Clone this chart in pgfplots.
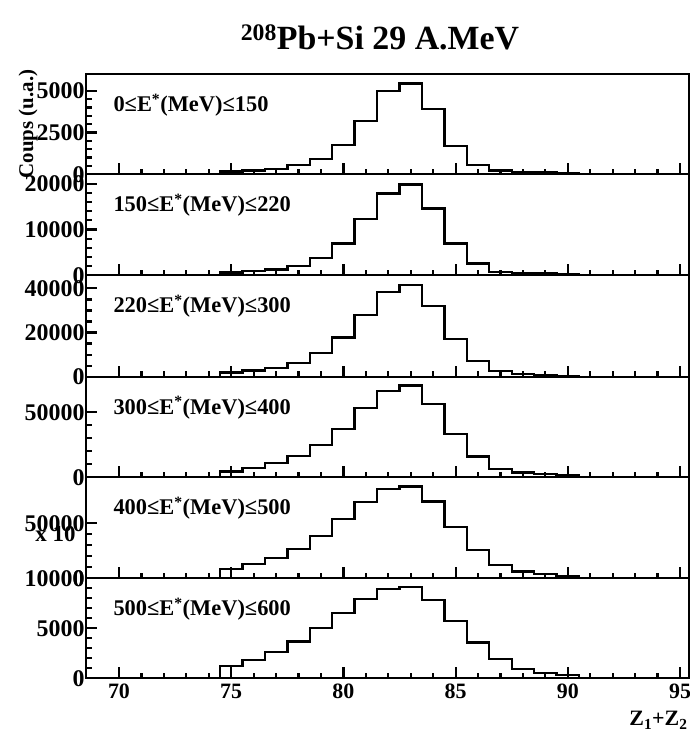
\documentclass[border=0pt]{standalone}
\usepackage{fontspec}
\setmainfont{Liberation Serif}
\usepackage{pgfplots}
\pgfplotsset{compat=1.18}
\tikzset{lab/.style={font=\bfseries\fontsize{22.5}{24}\selectfont, anchor=base west}}
\pgfplotsset{
 panel/.style={
  scale only axis, width=603bp, xmin=68.53, xmax=95.4, ymin=0,
  anchor=south west,
  axis line style={line width=2.2bp},
  xtick={70,75,...,95}, minor x tick num=4, xticklabels={},
  xtick pos=bottom, ytick pos=left, tick align=inside,
  major tick length=11bp, minor tick length=5.5bp,
  tick style={line width=2.2bp, black},
  scaled y ticks=false, scaled x ticks=false,
  tick label style={font=\bfseries\fontsize{24}{26}\selectfont},
  yticklabel style={xshift=2bp},
  /pgf/number format/assume math mode=true,
 },
 hist/.style={const plot mark left, line width=2.4bp, black, no marks},
}
\begin{document}
\begin{tikzpicture}[x=1bp,y=1bp]
\path[use as bounding box] (0,0) rectangle (690,738);

% Panel 1
\begin{axis}[panel, at={(86bp,563.7bp)}, height=100.3bp, ymax=6000,
  ytick={0,2500,5000}, yticklabels={0,2500,5000}, minor y tick num=4]
\addplot[hist] coordinates {(74.5,0)(74.5,155)(75.5,215)(76.5,300)(77.5,540)(78.5,915)(79.5,1750)(80.5,3190)(81.5,5000)(82.5,5440)(83.5,3905)(84.5,1675)(85.5,540)(86.5,215)(87.5,140)(88.5,95)(89.5,60)(90.5,60)(90.5,0)};
\node[lab] at (rel axis cs:0,1) [xshift=24bp, yshift=-37.7bp] {0≤E\textsuperscript{*}(MeV)≤150};
\end{axis}

% Panel 2
\begin{axis}[panel, at={(86bp,462.8bp)}, height=100.9bp, ymax=22079,
  ytick={0,10000,20000}, yticklabels={0,10000,20000}, minor y tick num=4]
\addplot[hist] coordinates {(74.5,0)(74.5,590)(75.5,875)(76.5,1250)(77.5,1970)(78.5,3785)(79.5,6940)(80.5,12250)(81.5,17880)(82.5,19850)(83.5,14600)(84.5,6940)(85.5,2560)(86.5,720)(87.5,500)(88.5,370)(89.5,280)(90.5,280)(90.5,0)};
\node[lab] at (rel axis cs:0,1) [xshift=24bp, yshift=-37.7bp] {150≤E\textsuperscript{*}(MeV)≤220};
\end{axis}

% Panel 3
\begin{axis}[panel, at={(86bp,361.3bp)}, height=101.5bp, ymax=45980,
  ytick={0,20000,40000}, yticklabels={0,20000,40000}, minor y tick num=3]
\addplot[hist] coordinates {(74.5,0)(74.5,1810)(75.5,2720)(76.5,3805)(77.5,6070)(78.5,10600)(79.5,17760)(80.5,27950)(81.5,38230)(82.5,41540)(83.5,32030)(84.5,16940)(85.5,7110)(86.5,2580)(87.5,1220)(88.5,540)(89.5,320)(90.5,320)(90.5,0)};
\node[lab] at (rel axis cs:0,1) [xshift=24bp, yshift=-37.7bp] {220≤E\textsuperscript{*}(MeV)≤300};
\end{axis}

% Panel 4
\begin{axis}[panel, at={(86bp,260.7bp)}, height=100.6bp, ymax=77385,
  ytick={0,50000}, yticklabels={0,50000}, minor y tick num=4]
\addplot[hist] coordinates {(74.5,0)(74.5,4310)(75.5,6920)(76.5,10770)(77.5,16380)(78.5,24850)(79.5,37000)(80.5,53080)(81.5,66600)(82.5,70460)(83.5,56150)(84.5,33310)(85.5,15850)(86.5,6380)(87.5,3540)(88.5,2310)(89.5,1770)(90.5,1770)(90.5,0)};
\node[lab] at (rel axis cs:0,1) [xshift=24bp, yshift=-37.7bp] {300≤E\textsuperscript{*}(MeV)≤400};
\end{axis}

% Panel 5
\begin{axis}[panel, at={(86bp,159.7bp)}, height=101bp, ymax=91818,
  ytick={0,50000}, yticklabels={0,50000}, minor y tick num=4]
\addplot[hist] coordinates {(74.5,0)(74.5,8450)(75.5,12730)(76.5,18180)(77.5,26640)(78.5,38450)(79.5,53640)(80.5,69090)(81.5,81180)(82.5,83270)(83.5,69640)(84.5,46360)(85.5,25730)(86.5,12090)(87.5,6000)(88.5,3640)(89.5,2360)(90.5,2360)(90.5,0)};
\node[lab] at (rel axis cs:0,1) [xshift=24bp, yshift=-37.7bp] {400≤E\textsuperscript{*}(MeV)≤500};
\end{axis}

% Panel 6
\begin{axis}[panel, at={(86bp,59.7bp)}, height=100bp, ymax=10000,
  ytick={0,5000,10000}, yticklabels={0,5000,10000}, minor y tick num=4,
  xticklabels={70,75,80,85,90,95},
  xticklabel style={yshift=-2bp, font=\bfseries\fontsize{22}{24}\selectfont}]
\addplot[hist] coordinates {(74.5,0)(74.5,1230)(75.5,1830)(76.5,2630)(77.5,3660)(78.5,5000)(79.5,6500)(80.5,7930)(81.5,8930)(82.5,9100)(83.5,7830)(84.5,5730)(85.5,3560)(86.5,1900)(87.5,900)(88.5,500)(89.5,300)(90.5,300)(90.5,0)};
\node[lab] at (rel axis cs:0,1) [xshift=24bp, yshift=-37.7bp] {500≤E\textsuperscript{*}(MeV)≤600};
\end{axis}

\node[anchor=base east, font=\bfseries\fontsize{23}{24}\selectfont] at (79,196.3) {x 10};
\node[rotate=90, anchor=base, font=\bfseries\fontsize{21}{22}\selectfont] at (33,614) {Coups (u.a.)};
\node[anchor=base east, font=\bfseries\fontsize{22}{24}\selectfont] at (691,12) {Z\textsubscript{1}+Z\textsubscript{2}};
\node[anchor=base, font=\bfseries\fontsize{34}{36}\selectfont] at (380,688) {\textsuperscript{208}Pb+Si 29 A.MeV};
\end{tikzpicture}
\end{document}
